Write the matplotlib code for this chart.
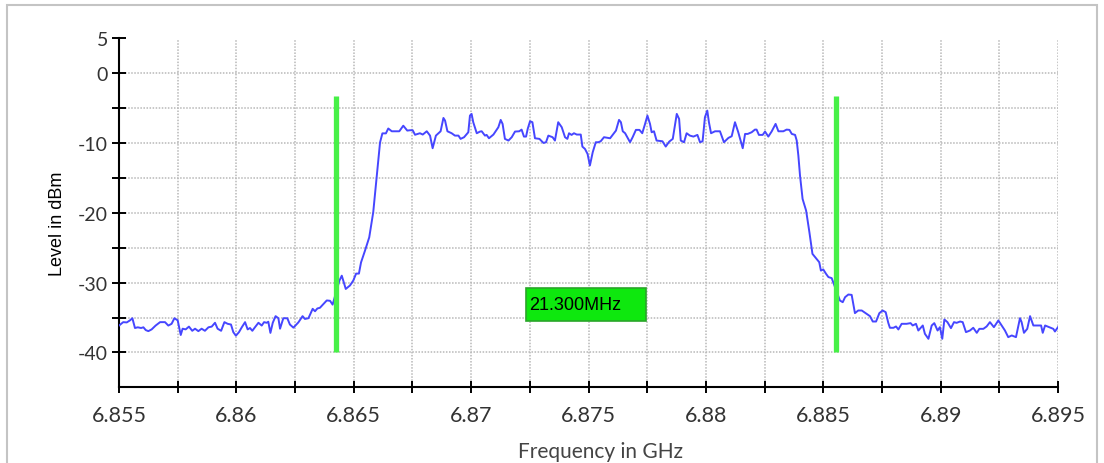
import matplotlib
matplotlib.use('Agg')
import matplotlib.pyplot as plt
from matplotlib.patches import Rectangle

# ---------------- data ----------------
freq_ghz = [
    6.85500, 6.85518, 6.85533, 6.85547, 6.85557, 6.85568, 6.85580, 6.85594, 6.85604, 6.85614,
    6.85625, 6.85639, 6.85656, 6.85675, 6.85696, 6.85710, 6.85724, 6.85736, 6.85750, 6.85763,
    6.85771, 6.85784, 6.85798, 6.85812, 6.85824, 6.85838, 6.85852, 6.85866, 6.85881, 6.85895,
    6.85909, 6.85920, 6.85935, 6.85949, 6.85963, 6.85977, 6.85987, 6.85998, 6.86011, 6.86023,
    6.86037, 6.86048, 6.86058, 6.86068, 6.86079, 6.86094, 6.86108, 6.86118, 6.86129, 6.86136,
    6.86145, 6.86155, 6.86167, 6.86179,
    6.86186, 6.86200, 6.86217, 6.86228, 6.86243, 6.86264, 6.86282, 6.86292, 6.86307, 6.86325,
    6.86335, 6.86345, 6.86356, 6.86370, 6.86385, 6.86399, 6.86410, 6.86439, 6.86449, 6.86466,
    6.86484, 6.86498, 6.86510, 6.86522, 6.86531, 6.86548, 6.86566, 6.86583, 6.86598, 6.86612,
    6.86622, 6.86637, 6.86647, 6.86662, 6.86694, 6.86711, 6.86728, 6.86740, 6.86751, 6.86761,
    6.86782, 6.86794, 6.86811, 6.86825, 6.86836, 6.86850, 6.86870, 6.86882, 6.86889, 6.86899,
    6.86917, 6.86931, 6.86946, 6.86955, 6.86970, 6.86988, 6.86995, 6.87002, 6.87009, 6.87024,
    6.87038, 6.87045, 6.87059, 6.87066, 6.87076, 6.87095, 6.87116, 6.87126, 6.87134, 6.87144,
    6.87159, 6.87173, 6.87187, 6.87205, 6.87215, 6.87225, 6.87234, 6.87241, 6.87251, 6.87261,
    6.87272, 6.87291, 6.87308, 6.87319, 6.87329, 6.87347, 6.87357, 6.87371, 6.87386, 6.87400,
    6.87410, 6.87417, 6.87428, 6.87438, 6.87450, 6.87467, 6.87474, 6.87485, 6.87496, 6.87506,
    6.87518, 6.87531, 6.87542, 6.87552, 6.87566,
    6.87592, 6.87606, 6.87617, 6.87630, 6.87638, 6.87646, 6.87656, 6.87677, 6.87688, 6.87702,
    6.87717, 6.87729, 6.87741, 6.87751, 6.87762, 6.87769, 6.87779, 6.87790, 6.87815, 6.87829,
    6.87844, 6.87859, 6.87868, 6.87876, 6.87886, 6.87893, 6.87907, 6.87918, 6.87932, 6.87947,
    6.87964, 6.87975, 6.87986, 6.87996, 6.88006, 6.88013, 6.88022, 6.88039, 6.88060, 6.88077,
    6.88096, 6.88110, 6.88124, 6.88138, 6.88150, 6.88157, 6.88167, 6.88178, 6.88195, 6.88209,
    6.88216, 6.88226, 6.88242, 6.88252, 6.88266, 6.88280, 6.88297, 6.88309, 6.88330, 6.88344,
    6.88356, 6.88366, 6.88380,
    6.88387, 6.88394, 6.88401, 6.88412, 6.88427, 6.88441, 6.88454, 6.88472, 6.88483, 6.88490,
    6.88500, 6.88512, 6.88522, 6.88536,
    6.88571, 6.88583, 6.88593, 6.88607, 6.88621, 6.88635, 6.88649, 6.88664, 6.88685, 6.88699,
    6.88711, 6.88725, 6.88739, 6.88753, 6.88766, 6.88777, 6.88784, 6.88799, 6.88810, 6.88820,
    6.88834, 6.88855, 6.88872, 6.88881, 6.88895, 6.88905, 6.88924, 6.88933, 6.88948, 6.88962,
    6.88973, 6.88987, 6.88997, 6.89007, 6.89016, 6.89029, 6.89044, 6.89057, 6.89068, 6.89083,
    6.89094, 6.89108, 6.89125, 6.89139, 6.89154, 6.89165, 6.89182, 6.89196, 6.89210, 6.89227,
    6.89246, 6.89260, 6.89274, 6.89288, 6.89303, 6.89321, 6.89338, 6.89345, 6.89355, 6.89369,
    6.89381, 6.89395, 6.89419, 6.89428, 6.89435, 6.89445, 6.89463, 6.89480, 6.89487, 6.89500,
]

level_dbm = [
    -36.15, -35.66, -35.70, -35.40, -35.10, -36.50, -36.40, -36.50, -36.40, -36.80,
    -36.95, -36.70, -36.15, -35.66, -35.66, -36.15, -35.90, -35.10, -35.40, -37.50,
    -36.60, -36.70, -36.30, -36.90, -36.60, -36.95, -36.60, -36.90, -36.40, -36.30,
    -35.75, -36.60, -36.90, -35.66, -35.90, -36.00, -37.10, -37.60, -37.10, -36.40,
    -35.66, -36.70, -36.50, -36.90, -36.40, -35.75, -36.15, -35.66, -35.75, -35.60,
    -37.20, -35.75, -34.80, -35.10,
    -36.60, -35.10, -35.10, -36.00, -36.45, -35.70, -34.80, -35.20, -35.10, -33.75,
    -34.10, -33.70, -33.60, -33.10, -32.55, -32.60, -33.15, -29.70, -29.00, -30.90,
    -30.40, -29.70, -28.70, -28.70, -27.10, -25.40, -23.50, -19.90, -14.65, -9.90,
    -8.60, -8.60, -7.90, -8.30, -8.30, -7.50, -8.20, -8.15, -8.15, -8.80,
    -8.58, -8.77, -8.30, -8.92, -10.73, -8.92, -8.30, -6.39, -6.77, -8.30,
    -8.58, -8.92, -8.92, -9.39, -9.15, -8.44, -6.05, -5.81, -7.00, -8.58,
    -8.34, -8.30, -8.92, -8.82, -9.30, -8.77, -7.72, -6.67, -7.24, -9.39,
    -9.63, -9.15, -8.34, -8.30, -8.06, -9.06, -9.06, -7.96, -6.86, -7.00,
    -9.30, -9.39, -9.97, -9.87, -8.92, -9.15, -9.63, -7.00, -7.72, -9.15,
    -9.39, -8.58, -8.82, -8.58, -8.77, -8.77, -10.50, -10.83, -11.55, -13.20,
    -11.30, -9.87, -9.87, -9.73, -9.15,
    -9.30, -8.68, -8.20, -6.67, -7.00, -8.30, -8.58, -9.87, -9.15, -8.10,
    -8.10, -8.58, -7.24, -6.05, -7.24, -8.44, -8.30, -9.63, -9.73, -10.49,
    -9.78, -9.39, -7.48, -5.81, -6.53, -9.63, -9.87, -8.58, -8.92, -9.06,
    -8.82, -9.87, -9.73, -6.29, -5.33, -7.00, -8.58, -8.30, -8.30, -9.87,
    -9.25, -9.01, -7.00, -8.44, -9.87, -10.73, -8.68, -8.68, -8.44, -8.06,
    -8.06, -8.82, -8.82, -8.34, -9.06, -8.34, -7.24, -8.30, -8.30, -8.06,
    -8.10, -8.68, -8.82,
    -9.63, -11.80, -14.65, -18.00, -19.67, -22.77, -25.87, -26.60, -27.07, -28.27,
    -28.10, -28.74, -29.20, -29.35,
    -32.56, -32.80, -32.08, -31.70, -31.75, -34.37, -33.99, -33.99, -34.47, -34.80,
    -35.57, -35.57, -34.37, -33.99, -34.23, -35.76, -36.47, -36.47, -36.28, -36.71,
    -35.90, -35.90, -35.80, -36.14, -35.90, -36.86, -36.14, -37.33, -38.05, -36.14,
    -35.80, -36.86, -36.38, -38.05, -35.28, -35.66, -36.52, -35.66, -35.76, -35.57,
    -35.66, -37.09, -36.86, -36.47, -37.19, -36.62, -36.62, -36.28, -35.66, -36.38,
    -35.42, -36.14, -36.86, -37.81, -37.57, -37.81, -35.09, -35.66, -37.19, -36.62,
    -34.80, -36.14, -36.14, -36.14, -37.19, -36.14, -36.38, -36.62, -37.00, -36.38,
]

marker_freqs = [6.86424, 6.88554]
marker_top_dbm = -3.3
marker_bottom_dbm = -40.0
bandwidth_label = "21.300MHz"
label_level_dbm = -33.15

x_ticks = [6.855, 6.8575, 6.86, 6.8625, 6.865, 6.8675, 6.87, 6.8725, 6.875,
           6.8775, 6.88, 6.8825, 6.885, 6.8875, 6.89, 6.8925, 6.895]
x_tick_labels = ["6.855", "", "6.86", "", "6.865", "", "6.87", "", "6.875",
                 "", "6.88", "", "6.885", "", "6.89", "", "6.895"]
y_ticks = [5, 0, -5, -10, -15, -20, -25, -30, -35, -40]
y_tick_labels = ["5", "0", "", "-10", "", "-20", "", "-30", "", "-40"]

# ---------------- figure ----------------
W, H = 1104, 464
fig = plt.figure(figsize=(W / 100, H / 100), dpi=100)
fig.patch.set_facecolor('white')

# outer frame
fig.patches.append(Rectangle((7 / W, -0.05), (1097 - 7) / W, 1.05 - 6 / H,
                             transform=fig.transFigure, fill=False,
                             edgecolor='#c4c4c4', linewidth=1.5))

ax = fig.add_axes([119 / W, 1 - 388.3 / H, (1058 - 119) / W, (388.3 - 39.5) / H])
ax.set_xlim(6.855, 6.895)
ax.set_ylim(-45, 5)

ax.grid(True, color='#b8b8b8', linestyle=(0, (1, 1)), linewidth=1.1)
ax.set_axisbelow(True)

ax.plot(freq_ghz, level_dbm, color='#4646ff', linewidth=1.4, zorder=3)

ax.vlines(marker_freqs, marker_bottom_dbm, marker_top_dbm, colors='#47f047',
          linewidth=3.8, zorder=4)

mid = sum(marker_freqs) / 2
bw = 0.00511
bh = 4.7
ax.add_patch(Rectangle((mid - bw / 2, label_level_dbm - bh / 2), bw, bh,
                       facecolor='#0ee80e', edgecolor='#2aa52a', linewidth=1.2, zorder=5))
ax.text(mid - bw / 2 + 0.00012, label_level_dbm, bandwidth_label, ha='left', va='center',
        fontsize=13, family='Liberation Sans', color='black', zorder=6)

for s in ('top', 'right'):
    ax.spines[s].set_visible(False)
for s in ('left', 'bottom'):
    ax.spines[s].set_linewidth(1.5)
    ax.spines[s].set_color('black')

ax.set_xticks(x_ticks)
ax.set_xticklabels(x_tick_labels)
ax.set_yticks(y_ticks)
ax.set_yticklabels(y_tick_labels)
ax.tick_params(axis='x', direction='inout', length=8.2, width=1.4, pad=9,
               labelsize=15.5, labelcolor='#333333')
ax.tick_params(axis='y', direction='inout', length=10, width=1.4, pad=3,
               labelsize=14, labelcolor='#333333')
for lab in ax.get_xticklabels() + ax.get_yticklabels():
    lab.set_family('Lato')
    lab.set_fontweight('normal')

fig.text(600 / W, 1 - 452 / H, 'Frequency in GHz', ha='center', va='center',
         fontsize=15, family='Lato', fontweight='normal', color='#444444')
fig.text(58 / W, 1 - 223.5 / H, 'Level in dBm', ha='center', va='center', rotation=90,
         fontsize=13, family='Liberation Sans', color='black')

fig.savefig('out.png', dpi=100, facecolor='white')
